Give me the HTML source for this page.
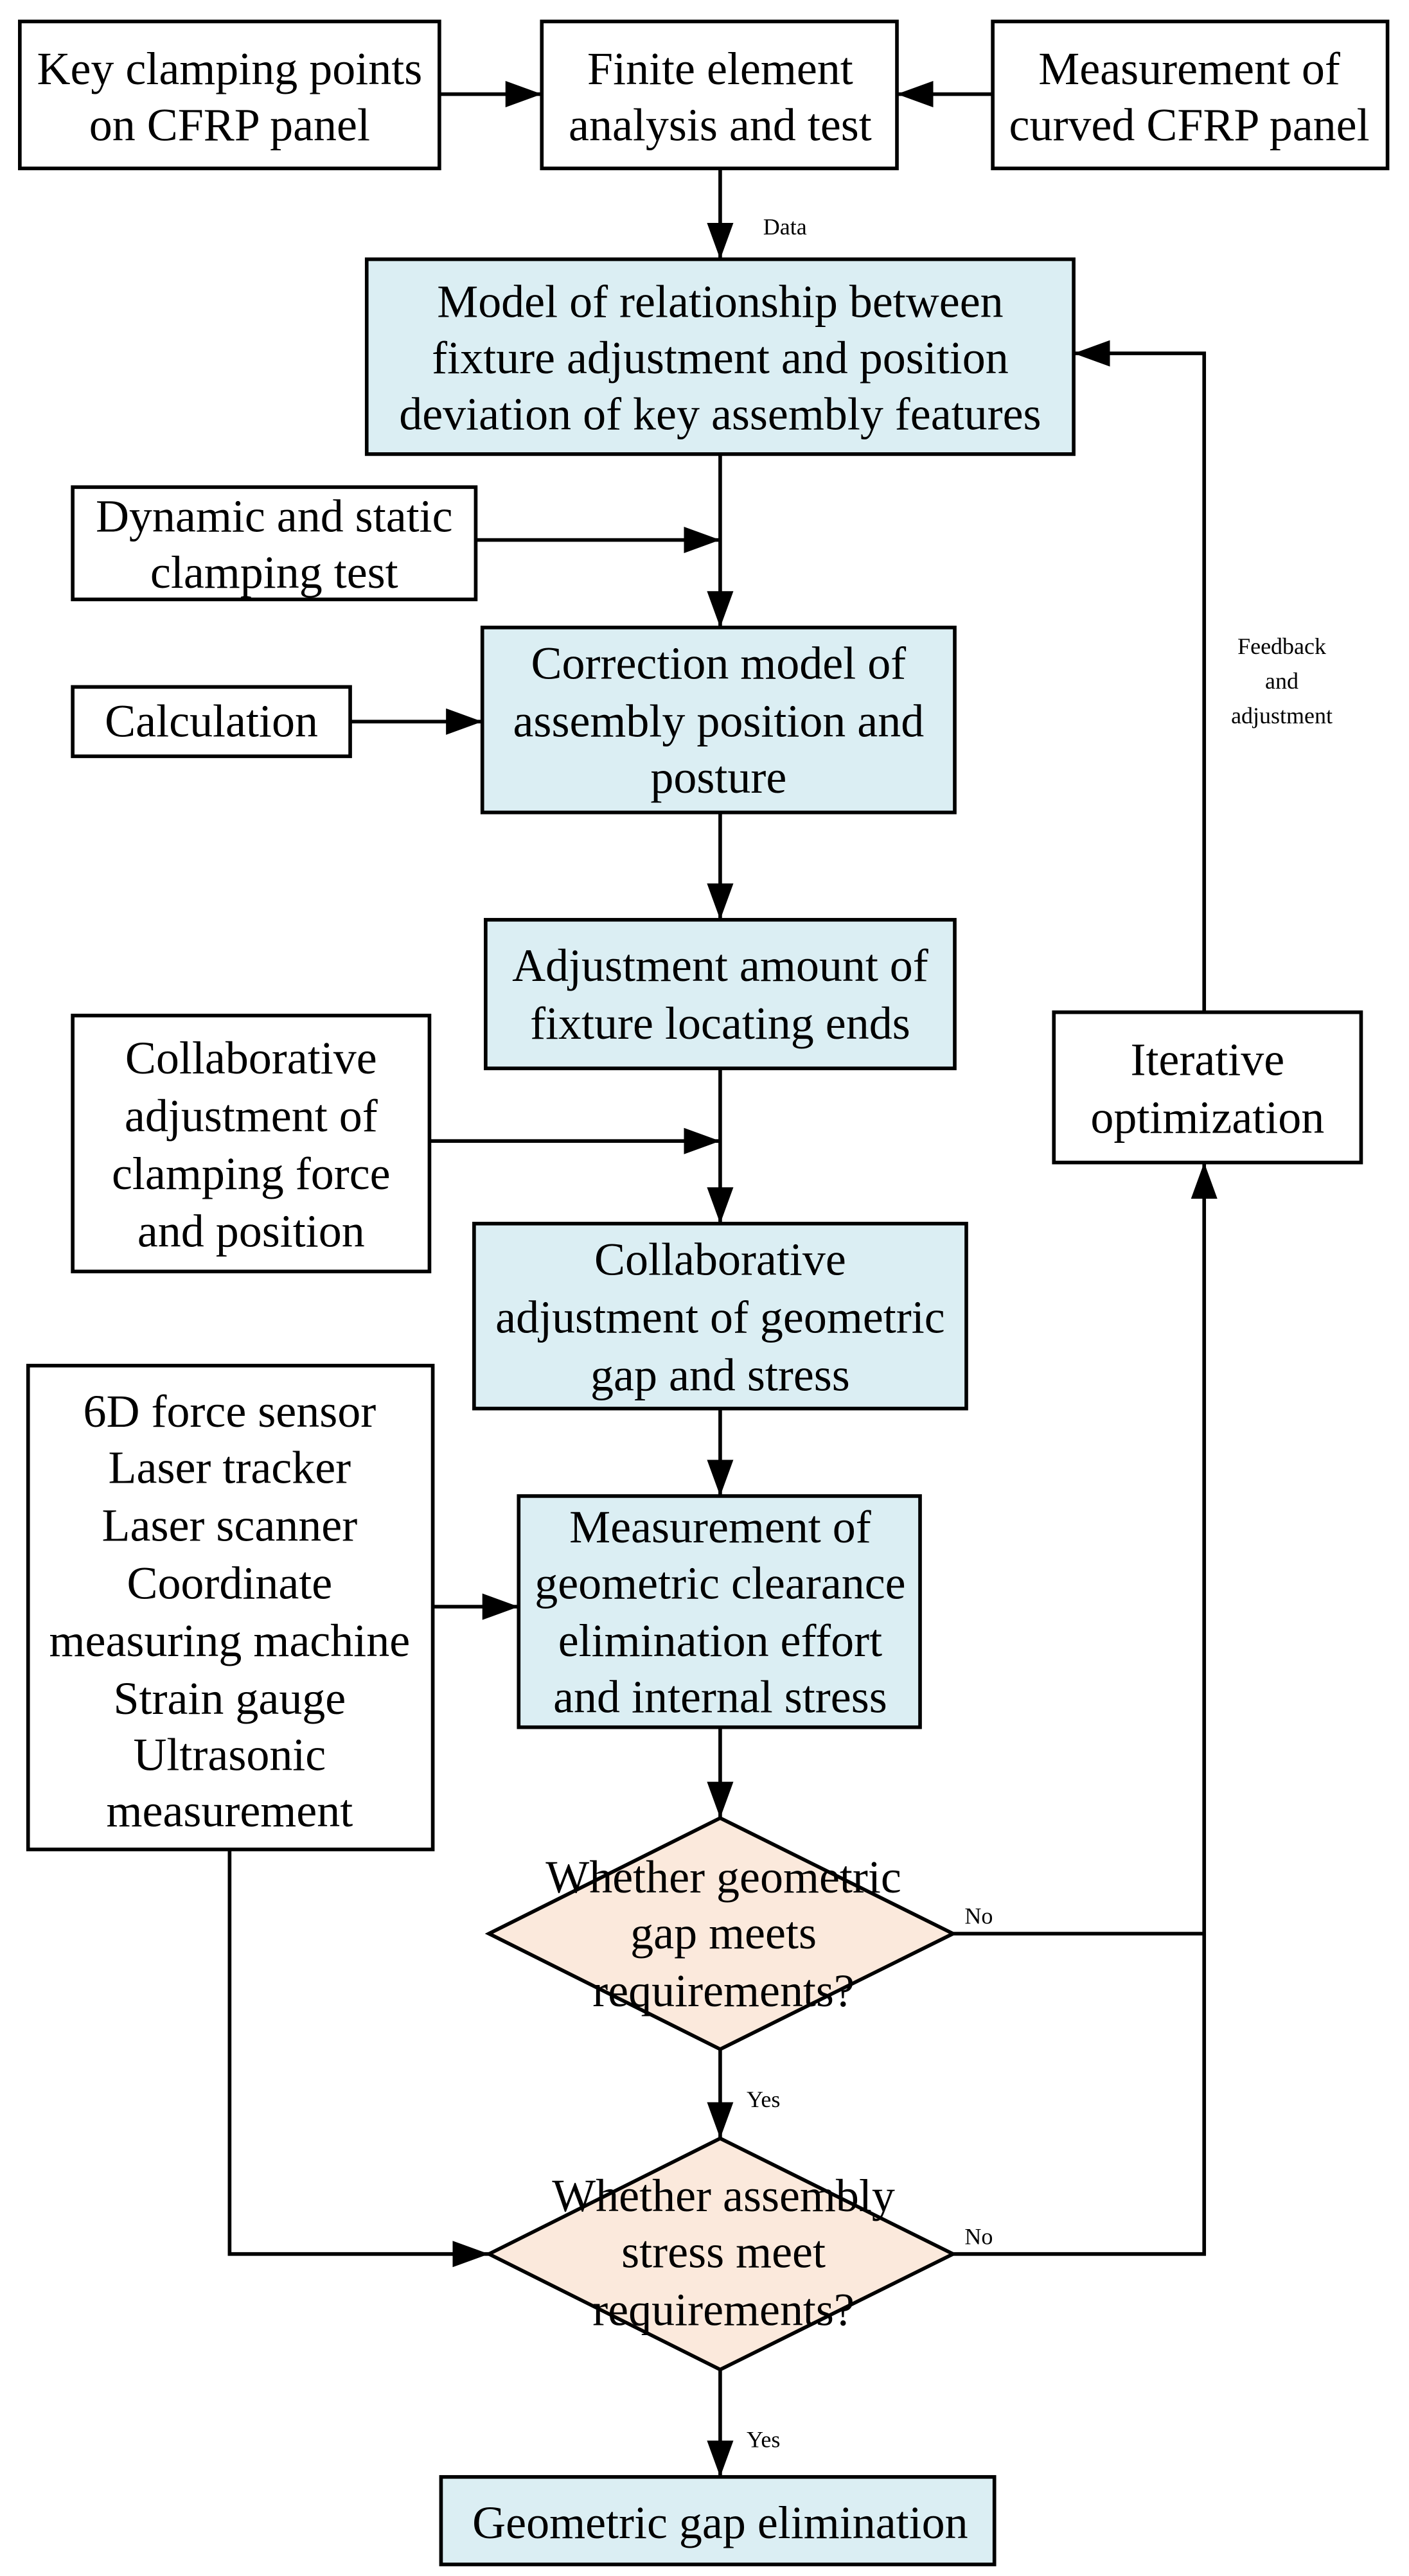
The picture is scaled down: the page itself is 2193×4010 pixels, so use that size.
<!DOCTYPE html>
<html><head><meta charset="utf-8"><style>
html,body{margin:0;padding:0;background:#fff;}
svg{display:block;}
text{font-family:"Liberation Serif",serif;fill:#000;}
</style></head><body>
<svg width="2193" height="4010" viewBox="0 0 853 1560" preserveAspectRatio="none" xmlns="http://www.w3.org/2000/svg">
<defs>
<marker id="b" markerWidth="22" markerHeight="16" refX="22" refY="8" orient="auto" markerUnits="userSpaceOnUse"><path d="M0,0 L22,8 L0,16 z" fill="#000"/></marker></defs>
<g stroke="#000" stroke-width="2.2" fill="#fff">
<rect x="12" y="13" width="254" height="89"/>
<rect x="328" y="13" width="215" height="89"/>
<rect x="601" y="13" width="239" height="89"/>
<rect x="222" y="157" width="428" height="118" fill="#dbeef3"/>
<rect x="44" y="295" width="244" height="68"/>
<rect x="292" y="380" width="286" height="112" fill="#dbeef3"/>
<rect x="44" y="416" width="168" height="42"/>
<rect x="294" y="557" width="284" height="90" fill="#dbeef3"/>
<rect x="44" y="615" width="216" height="155"/>
<rect x="287" y="741" width="298" height="112" fill="#dbeef3"/>
<rect x="17" y="827" width="245" height="293"/>
<rect x="314" y="906" width="243" height="140" fill="#dbeef3"/>
<polygon points="436,1101 577,1171 436,1241 296,1171" fill="#fbe9dc"/>
<polygon points="436,1295 577,1365 436,1435 296,1365" fill="#fbe9dc"/>
<rect x="267" y="1500" width="335" height="53" fill="#dbeef3"/>
<rect x="638" y="613" width="186" height="91"/>
</g>
<g stroke="#000" stroke-width="2.2" fill="none" marker-end="url(#b)">
<line x1="266" y1="57" x2="328" y2="57"/>
<line x1="601" y1="57" x2="543" y2="57"/>
<line x1="436" y1="102" x2="436" y2="157"/>
<line x1="436" y1="275" x2="436" y2="380"/>
<line x1="288" y1="327" x2="436" y2="327"/>
<line x1="212" y1="437" x2="292" y2="437"/>
<line x1="436" y1="492" x2="436" y2="557"/>
<line x1="436" y1="647" x2="436" y2="741"/>
<line x1="260" y1="691" x2="436" y2="691"/>
<line x1="436" y1="853" x2="436" y2="906"/>
<line x1="262" y1="973" x2="314" y2="973"/>
<line x1="436" y1="1046" x2="436" y2="1101"/>
<line x1="436" y1="1241" x2="436" y2="1295"/>
<polyline points="139,1120 139,1365 296,1365"/>
<line x1="436" y1="1435" x2="436" y2="1500"/>
<polyline points="577,1365 729,1365 729,704"/>
<polyline points="729,613 729,214 650,214"/>
</g>
<line x1="577" y1="1171" x2="729" y2="1171" stroke="#000" stroke-width="2.2"/>
<g font-size="28" text-anchor="middle">
<text x="139" y="51">Key clamping points</text><text x="139" y="85">on CFRP panel</text>
<text x="436" y="51">Finite element</text><text x="436" y="85">analysis and test</text>
<text x="720" y="51">Measurement of</text><text x="720" y="85">curved CFRP panel</text>
<text x="436" y="192">Model of relationship between</text>
<text x="436" y="226">fixture adjustment and position</text>
<text x="436" y="260">deviation of key assembly features</text>
<text x="166" y="322">Dynamic and static</text><text x="166" y="356">clamping test</text>
<text x="435" y="411">Correction model of</text><text x="435" y="446">assembly position and</text><text x="435" y="480">posture</text>
<text x="128" y="446">Calculation</text>
<text x="436" y="594">Adjustment amount of</text><text x="436" y="629">fixture locating ends</text>
<text x="152" y="650">Collaborative</text><text x="152" y="685">adjustment of</text><text x="152" y="720">clamping force</text><text x="152" y="755">and position</text>
<text x="436" y="772">Collaborative</text><text x="436" y="807">adjustment of geometric</text><text x="436" y="842">gap and stress</text>
<text x="139" y="864">6D force sensor</text><text x="139" y="898">Laser tracker</text><text x="139" y="933">Laser scanner</text><text x="139" y="968">Coordinate</text><text x="139" y="1003">measuring machine</text><text x="139" y="1038">Strain gauge</text><text x="139" y="1072">Ultrasonic</text><text x="139" y="1106">measurement</text>
<text x="436" y="934">Measurement of</text><text x="436" y="968">geometric clearance</text><text x="436" y="1003">elimination effort</text><text x="436" y="1037">and internal stress</text>
<text x="438" y="1146">Whether geometric</text><text x="438" y="1180">gap meets</text><text x="438" y="1215">requirements?</text>
<text x="438" y="1339">Whether assembly</text><text x="438" y="1373">stress meet</text><text x="438" y="1408">requirements?</text>
<text x="436" y="1537">Geometric gap elimination</text>
<text x="731" y="651">Iterative</text><text x="731" y="686">optimization</text>
</g>
<g font-size="14">
<text x="462" y="142">Data</text>
<text x="452" y="1276">Yes</text>
<text x="452" y="1482">Yes</text>
<text x="584" y="1165">No</text>
<text x="584" y="1359">No</text>
<text x="776" y="396" text-anchor="middle">Feedback</text>
<text x="776" y="417" text-anchor="middle">and</text>
<text x="776" y="438" text-anchor="middle">adjustment</text>
</g>
</svg>
</body></html>
